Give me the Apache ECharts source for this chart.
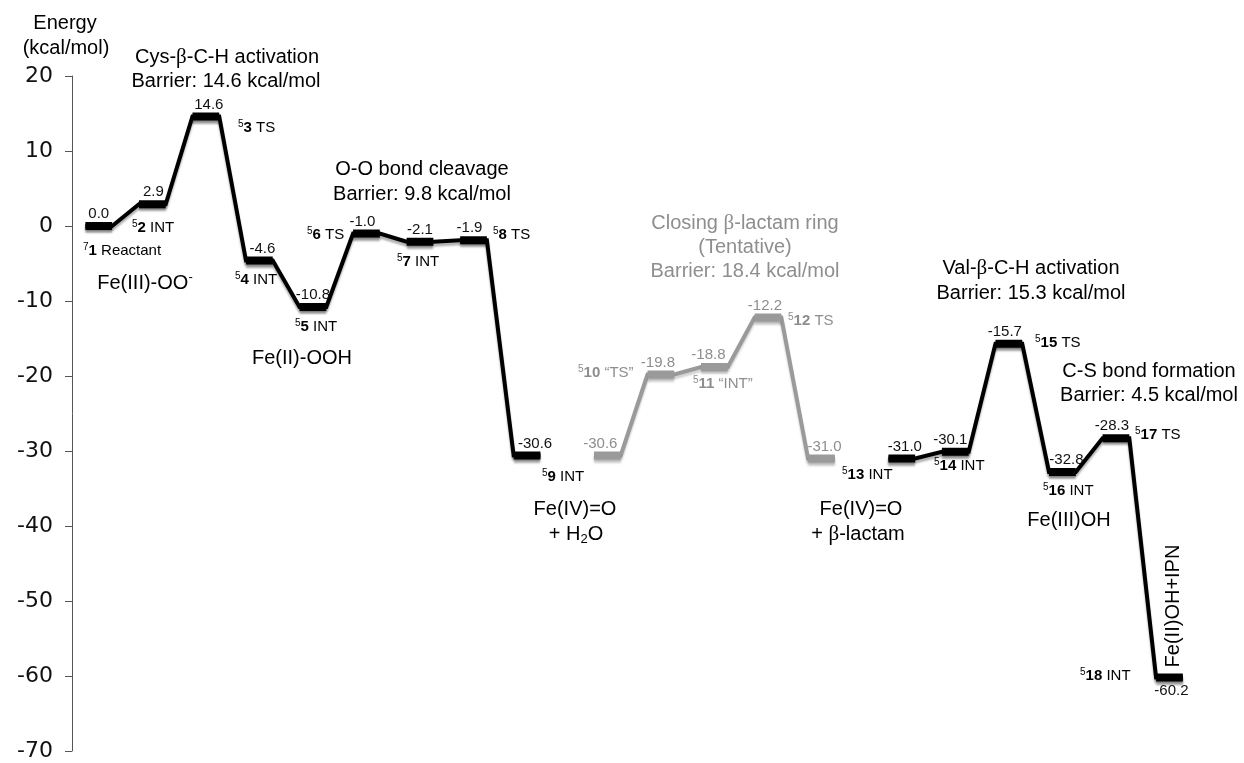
<!DOCTYPE html>
<html>
<head>
<meta charset="utf-8">
<script src="https://cdn.jsdelivr.net/npm/echarts@6/dist/echarts.min.js"></script>
<style>
  html, body { margin: 0; padding: 0; background: #fff; }
  #chart { width: 1244px; height: 763px; }
</style>
</head>
<body>
<div id="chart"></div>
<script>
// Stationary points along the reaction coordinate, relative energies in kcal/mol.
// Stage 1: Cys-beta-C-H activation and O-O bond cleavage (points 1-9)
const stage1Pos = [1, 2, 3, 4, 5, 6, 7, 8, 9];
const stage1Energy = [0.0, 2.9, 14.6, -4.6, -10.8, -1.0, -2.1, -1.9, -30.6];
// Stage 2: tentative beta-lactam ring closure (points 10-12, shown in grey)
const stage2Pos = [10.5, 11.5, 12.5, 13.5, 14.5];
const stage2Energy = [-30.6, -19.8, -18.8, -12.2, -31.0];
// Stage 3: Val-beta-C-H activation and C-S bond formation (points 13-18)
const stage3Pos = [16, 17, 18, 19, 20, 21];
const stage3Energy = [-31.0, -30.1, -15.7, -32.8, -28.3, -60.2];

// Point labels: spin multiplicity, structure number, kind
const pointSpins = ['7', '5', '5', '5', '5', '5', '5', '5', '5', '5', '5', '5', '5', '5', '5', '5', '5', '5'];
const pointIds = ['1', '2', '3', '4', '5', '6', '7', '8', '9', '10', '11', '12', '13', '14', '15', '16', '17', '18'];
const pointKinds = ['Reactant', 'INT', 'TS', 'INT', 'INT', 'TS', 'INT', 'TS', 'INT',
                    '\u201CTS\u201D', '\u201CINT\u201D', 'TS', 'INT', 'INT', 'TS', 'INT', 'TS', 'INT'];

// Energy axis range
const yMin = -70, yMax = 20, yStep = 10;

// ---- layout and style ----
const BLACK = '#000000';
const GREY = '#9a9a9a';
const GREY_TEXT = '#8e8e8e';
const SANS = '"Liberation Sans", Arial, Helvetica, sans-serif';
const SERIF = '"Liberation Serif", "Times New Roman", serif';
const HALF = 0.25;            // half width of a level bar, in reaction-coordinate units

// horizontal nudge (px) of each energy label so it clears the connectors
const stage1LabelDx = [0, 1, 3, 3, 0, -4, 0, -4, 8];
const stage2LabelDx = [-7, -3, -6, -3, 3];
const stage3LabelDx = [3, -5, -4, 4, -4, 2];

// anchor (left x, centre y) of each point label, in pixels
const pointLabelAt = [
  [83, 251], [132, 228], [238, 128], [235, 280], [295, 327], [307, 235], [397, 262], [493, 235], [542, 477],
  [578, 373], [693, 384], [788, 321],
  [842, 475], [934, 466], [1035, 343], [1043, 491], [1135, 435], [1080, 676]
];
const greyPoints = ['10', '11', '12'];

const fmt = v => v.toFixed(1);
const barrier = (ts, ref) => 'Barrier: ' + fmt(ts - ref) + ' kcal/mol';

function pathPoints(pos, energy) {
  const pts = [];
  pos.forEach((p, i) => { pts.push([p - HALF, energy[i]], [p + HALF, energy[i]]); });
  return pts;
}

function connectorSeries(pos, energy, color, shadow) {
  return {
    type: 'line',
    data: pathPoints(pos, energy),
    symbol: 'none',
    silent: true,
    z: 2,
    lineStyle: {
      color: color, width: 4, join: 'miter',
      shadowColor: shadow, shadowBlur: 2, shadowOffsetY: 3
    }
  };
}

function levelSeries(pos, energy, color, textColor, shadow, labelDx, labelBelow) {
  return {
    type: 'custom',
    silent: true,
    z: 3,
    data: pos.map((p, i) => [p, energy[i]]),
    renderItem: function (params, api) {
      const x = api.value(0), e = api.value(1);
      const a = api.coord([x - HALF, e]);
      const b = api.coord([x + HALF, e]);
      const below = labelBelow.indexOf(params.dataIndex) >= 0;
      return {
        type: 'group',
        children: [
          {
            type: 'line',
            shape: { x1: a[0], y1: a[1], x2: b[0], y2: b[1] },
            style: {
              stroke: color, lineWidth: 8,
              shadowColor: shadow, shadowBlur: 2, shadowOffsetY: 3
            }
          },
          {
            type: 'text',
            x: (a[0] + b[0]) / 2 + labelDx[params.dataIndex],
            y: a[1] + (below ? 13 : -12),
            z2: 5,
            style: {
              text: fmt(e),
              fill: textColor,
              font: '15px ' + SANS,
              align: 'center',
              verticalAlign: 'middle'
            }
          }
        ]
      };
    }
  };
}

const chart = echarts.init(document.getElementById('chart'), null, { renderer: 'canvas' });

// rich-text styles shared by annotations
const richBase = {
  s: { fontSize: 10, fontFamily: SANS, lineHeight: 10, verticalAlign: 'top' },
  b: { fontSize: 15, fontFamily: SANS, fontWeight: 'bold', lineHeight: 17 },
  n: { fontSize: 15, fontFamily: SANS, lineHeight: 17 },
  g: { fontSize: 21, fontFamily: SERIF, lineHeight: 24 },
  t: { fontSize: 20, fontFamily: SANS, lineHeight: 24 },
  sup: { fontSize: 13, fontFamily: SANS, lineHeight: 12, verticalAlign: 'top' },
  sub: { fontSize: 13, fontFamily: SANS, lineHeight: 13, verticalAlign: 'bottom' }
};

function textEl(text, x, y, opts) {
  opts = opts || {};
  const color = opts.color || '#000';
  const rich = {};
  Object.keys(richBase).forEach(k => { rich[k] = Object.assign({}, richBase[k], { fill: color }); });
  return {
    type: 'text',
    x: x, y: y,
    rotation: opts.rotation || 0,
    silent: true,
    z: 10,
    style: {
      text: text,
      rich: rich,
      fill: color,
      font: (opts.size || 20) + 'px ' + SANS,
      lineHeight: opts.lineHeight || 24,
      align: opts.align || 'center',
      verticalAlign: 'middle'
    }
  };
}

const graphics = [];
// axis title
graphics.push(textEl('Energy', 65, 23));
graphics.push(textEl('(kcal/mol)', 66, 48));

// step titles
graphics.push(textEl('{t|Cys-}{g|\u03B2}{t|-C-H activation}', 227, 57));
graphics.push(textEl(barrier(stage1Energy[2], stage1Energy[0]), 226, 81));
graphics.push(textEl('O-O bond cleavage', 422, 169));
graphics.push(textEl(barrier(stage1Energy[5], stage1Energy[4]), 422, 194));
graphics.push(textEl('{t|Closing }{g|\u03B2}{t|-lactam ring}', 745, 223, { color: GREY_TEXT }));
graphics.push(textEl('(Tentative)', 745, 247, { color: GREY_TEXT }));
graphics.push(textEl(barrier(stage2Energy[3], stage2Energy[0]), 745, 271, { color: GREY_TEXT }));
graphics.push(textEl('{t|Val-}{g|\u03B2}{t|-C-H activation}', 1031, 268));
graphics.push(textEl(barrier(stage3Energy[2], stage3Energy[0]), 1031, 293));
graphics.push(textEl('C-S bond formation', 1149, 371));
graphics.push(textEl(barrier(stage3Energy[4], stage3Energy[3]), 1149, 395));

// iron species
graphics.push(textEl('{t|Fe(III)-OO}{sup|-}', 145, 283));
graphics.push(textEl('Fe(II)-OOH', 302, 358));
graphics.push(textEl('Fe(IV)=O', 575, 509));
graphics.push(textEl('{t|+ H}{sub|2}{t|O}', 576, 534));
graphics.push(textEl('Fe(IV)=O', 861, 509));
graphics.push(textEl('{t|+ }{g|\u03B2}{t|-lactam}', 858, 534));
graphics.push(textEl('Fe(III)OH', 1069, 520));
graphics.push(textEl('Fe(II)OH+IPN', 1173, 606, { rotation: Math.PI / 2 }));

// point labels
pointIds.forEach((id, i) => {
  const grey = greyPoints.indexOf(id) >= 0;
  const at = pointLabelAt[i];
  graphics.push(textEl('{s|' + pointSpins[i] + '}{b|' + id + '}{n| ' + pointKinds[i] + '}',
    at[0], at[1], { align: 'left', size: 15, lineHeight: 17, color: grey ? GREY_TEXT : '#000' }));
});

chart.setOption({
  animation: false,
  backgroundColor: '#ffffff',
  grid: { left: 72, right: 21, top: 76, bottom: 12, containLabel: false },
  xAxis: {
    type: 'value', min: 0.5, max: 22, show: false
  },
  yAxis: {
    type: 'value', min: yMin, max: yMax, interval: yStep,
    axisLine: { show: true, onZero: false, lineStyle: { color: '#555', width: 1 } },
    axisTick: { show: true, length: 7, lineStyle: { color: '#555', width: 1 } },
    splitLine: { show: false },
    axisLabel: {
      color: '#111', fontSize: 22, fontFamily: '"DejaVu Sans", Verdana, sans-serif', margin: 19
    }
  },
  series: [
    connectorSeries(stage1Pos, stage1Energy, BLACK, 'rgba(0,0,0,0.3)'),
    connectorSeries(stage2Pos, stage2Energy, GREY, 'rgba(0,0,0,0.18)'),
    connectorSeries(stage3Pos, stage3Energy, BLACK, 'rgba(0,0,0,0.3)'),
    levelSeries(stage1Pos, stage1Energy, BLACK, '#111', 'rgba(0,0,0,0.35)', stage1LabelDx, []),
    levelSeries(stage2Pos, stage2Energy, GREY, GREY_TEXT, 'rgba(0,0,0,0.2)', stage2LabelDx, []),
    levelSeries(stage3Pos, stage3Energy, BLACK, '#111', 'rgba(0,0,0,0.35)', stage3LabelDx, [5])
  ],
  graphic: { elements: graphics }
});
</script>
</body>
</html>
